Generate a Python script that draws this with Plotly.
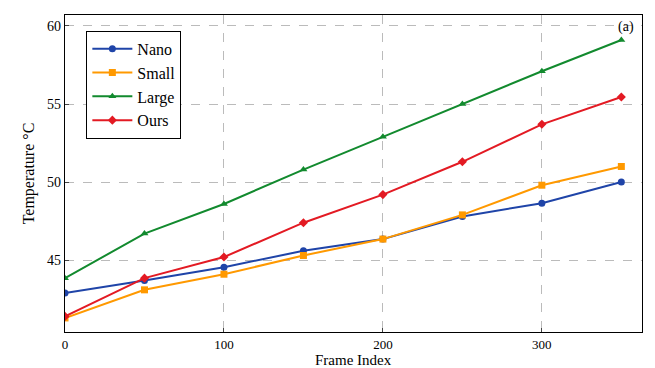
import plotly.graph_objects as go

frames = [0, 50, 100, 150, 200, 250, 300, 350]
nano = [42.9, 43.7, 44.55, 45.6, 46.35, 47.8, 48.65, 50.0]
small = [41.3, 43.1, 44.1, 45.3, 46.35, 47.9, 49.8, 51.0]
large = [43.85, 46.7, 48.6, 50.8, 52.9, 55.0, 57.1, 59.1]
ours = [41.4, 43.85, 45.2, 47.4, 49.2, 51.3, 53.7, 55.45]

series = [
    ("Nano", nano, "#1f44a8", "circle"),
    ("Small", small, "#ff9900", "square"),
    ("Large", large, "#128a2e", "triangle-up"),
    ("Ours", ours, "#e31a23", "diamond"),
]

FONT = "Liberation Serif"
fig = go.Figure()
for name, vals, color, sym in series:
    fig.add_trace(go.Scatter(
        x=frames, y=vals, name=name, mode="lines+markers",
        line=dict(color=color, width=2),
        marker=dict(symbol=sym, size=7, color=color),
    ))

fig.update_layout(
    width=655, height=368,
    margin=dict(l=65, r=13, t=15, b=36),
    paper_bgcolor="white", plot_bgcolor="white",
    font=dict(family=FONT, size=15, color="black"),
    showlegend=True,
    legend=dict(
        x=0.037, y=0.95, xanchor="left", yanchor="top",
        bgcolor="white", bordercolor="black", borderwidth=1,
        font=dict(family=FONT, size=16),
        itemwidth=40, tracegroupgap=4,
    ),
    annotations=[
        dict(
            text="(a)", x=0.99, y=0.995, xref="paper", yref="paper",
            xanchor="right", yanchor="top", showarrow=False,
            font=dict(family=FONT, size=14),
        ),
        dict(
            text="Frame Index", x=0.5, y=-0.117, xref="paper", yref="paper",
            xanchor="center", yanchor="bottom", showarrow=False, borderpad=0,
            font=dict(family=FONT, size=15),
        ),
    ],
)
fig.update_xaxes(
    range=[0, 363], tickvals=[0, 100, 200, 300], automargin=False,
    tickfont=dict(family=FONT, size=13),
    showgrid=True, gridcolor="#bbbbbb", griddash="dash", gridwidth=1,
    showline=True, linecolor="black", linewidth=1.2, mirror=True,
    ticks="inside", ticklen=4, zeroline=False,
)
fig.update_yaxes(
    range=[40.4, 60.7], tickvals=[45, 50, 55, 60], automargin=False,
    tickfont=dict(family=FONT, size=14),
    showgrid=True, gridcolor="#bbbbbb", griddash="dash", gridwidth=1,
    showline=True, linecolor="black", linewidth=1.2, mirror=True,
    ticks="inside", ticklen=4, zeroline=False,
    title=dict(text="Temperature °C", standoff=8, font=dict(family=FONT, size=16)),
)

fig.write_html("out.html")
